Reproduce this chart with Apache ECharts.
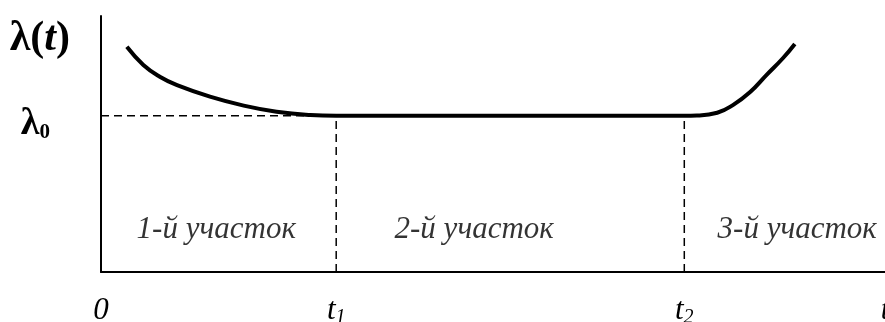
<!DOCTYPE html>
<html>
<head>
<meta charset="utf-8">
<script src="https://cdn.jsdelivr.net/npm/echarts@6/dist/echarts.min.js"></script>
<style>
  html, body { margin: 0; padding: 0; background: #fff; }
  #chart { width: 885px; height: 322px; }
</style>
</head>
<body>
<div id="chart"></div>
<script>
// Bathtub failure-rate curve λ(t): run-in, normal operation, wear-out.
const timePoints   = [0.33, 0.54, 0.75, 0.97, 1.39, 1.82, 2.24, 2.67, 3.0, 3.5, 7.0, 7.44, 7.6, 7.86, 8.06, 8.28, 8.49, 8.70, 8.85];
const lambdaValues = [8.80, 8.09, 7.63, 7.30, 6.85, 6.50, 6.26, 6.13, 6.1, 6.1, 6.1, 6.1, 6.11, 6.22, 6.52, 7.03, 7.70, 8.36, 8.91];

const lambda0 = 6.1;          // steady failure rate
const t1 = 3.0;               // end of section 1
const t2 = 7.44;              // end of section 2
const tEnd = 10;              // end of time axis

const xTickValues = [0, t1, t2, tEnd];
const xTickLabels = ['{i|0}', '{i|t}{s|1}', '{i|t}{s|2}', '{i|t}'];

const sectionNames   = ['1-й участок', '2-й участок', '3-й участок'];
const sectionCenters = [1.47, 4.76, 8.88];
const sectionLevel   = 1.64;

const serif = 'Liberation Serif, Times New Roman, serif';

const dashStyle = { color: '#000', width: 1.5, type: [8, 5] };

const chart = echarts.init(document.getElementById('chart'), null, { renderer: 'canvas' });

chart.setOption({
  animation: false,
  backgroundColor: '#fff',
  grid: { left: 101, right: 0, top: 16, bottom: 50, containLabel: false, outerBoundsMode: 'none' },
  xAxis: {
    type: 'value',
    min: 0,
    max: tEnd,
    axisLine: { show: true, lineStyle: { color: '#000', width: 2 } },
    axisTick: { show: false },
    splitLine: { show: false },
    axisLabel: {
      customValues: xTickValues,
      showMaxLabel: true,
      showMinLabel: true,
      hideOverlap: false,
      margin: 22,
      formatter: function (v) {
        const i = xTickValues.indexOf(v);
        return i >= 0 ? xTickLabels[i] : '';
      },
      rich: {
        i: { fontFamily: serif, fontStyle: 'italic', fontSize: 31, color: '#000', lineHeight: 34 },
        s: { fontFamily: serif, fontStyle: 'italic', fontSize: 20, color: '#000', lineHeight: 4, verticalAlign: 'bottom' }
      }
    }
  },
  yAxis: {
    type: 'value',
    min: 0,
    max: 10,
    name: '{b|λ(}{bi|t}{b|)}',
    nameLocation: 'end',
    nameGap: -2,
    nameTextStyle: {
      align: 'right',
      verticalAlign: 'top',
      padding: [0, 31, 0, 0],
      rich: {
        b:  { fontFamily: serif, fontWeight: 'bold', fontSize: 42, color: '#000' },
        bi: { fontFamily: serif, fontWeight: 'bold', fontStyle: 'italic', fontSize: 42, color: '#000' }
      }
    },
    axisLine: { show: true, lineStyle: { color: '#000', width: 2 } },
    axisTick: { show: false },
    splitLine: { show: false },
    axisLabel: {
      customValues: [lambda0],
      margin: 51,
      padding: [17, 0, 0, 0],
      formatter: function () { return '{l|λ}{s|0}'; },
      rich: {
        l: { fontFamily: serif, fontWeight: 'bold', fontSize: 38, color: '#000', lineHeight: 38 },
        s: { fontFamily: serif, fontWeight: 'bold', fontSize: 21, color: '#000', lineHeight: 4, verticalAlign: 'bottom' }
      }
    }
  },
  series: [
    {
      name: 'lambda0-level',
      type: 'line',
      data: [[0, lambda0], [t1, lambda0]],
      symbol: 'none',
      lineStyle: dashStyle,
      silent: true,
      z: 1
    },
    {
      name: 't1-boundary',
      type: 'line',
      data: [[t1, 0], [t1, lambda0]],
      symbol: 'none',
      lineStyle: dashStyle,
      silent: true,
      z: 1
    },
    {
      name: 't2-boundary',
      type: 'line',
      data: [[t2, 0], [t2, lambda0]],
      symbol: 'none',
      lineStyle: dashStyle,
      silent: true,
      z: 1
    },
    {
      name: 'failure-rate',
      type: 'line',
      data: timePoints.map((t, i) => [t, lambdaValues[i]]),
      symbol: 'none',
      smooth: 0.45,
      lineStyle: { color: '#000', width: 4, cap: 'butt' },
      silent: true,
      z: 3
    },
    {
      name: 'sections',
      type: 'scatter',
      data: sectionCenters.map((c, i) => [c, sectionLevel, sectionNames[i]]),
      symbolSize: 1,
      itemStyle: { color: 'rgba(0,0,0,0)' },
      silent: true,
      label: {
        show: true,
        position: 'inside',
        formatter: p => p.data[2],
        fontFamily: serif,
        fontStyle: 'italic',
        fontSize: 31,
        color: '#000'
      },
      z: 4
    }
  ]
});
</script>
</body>
</html>
